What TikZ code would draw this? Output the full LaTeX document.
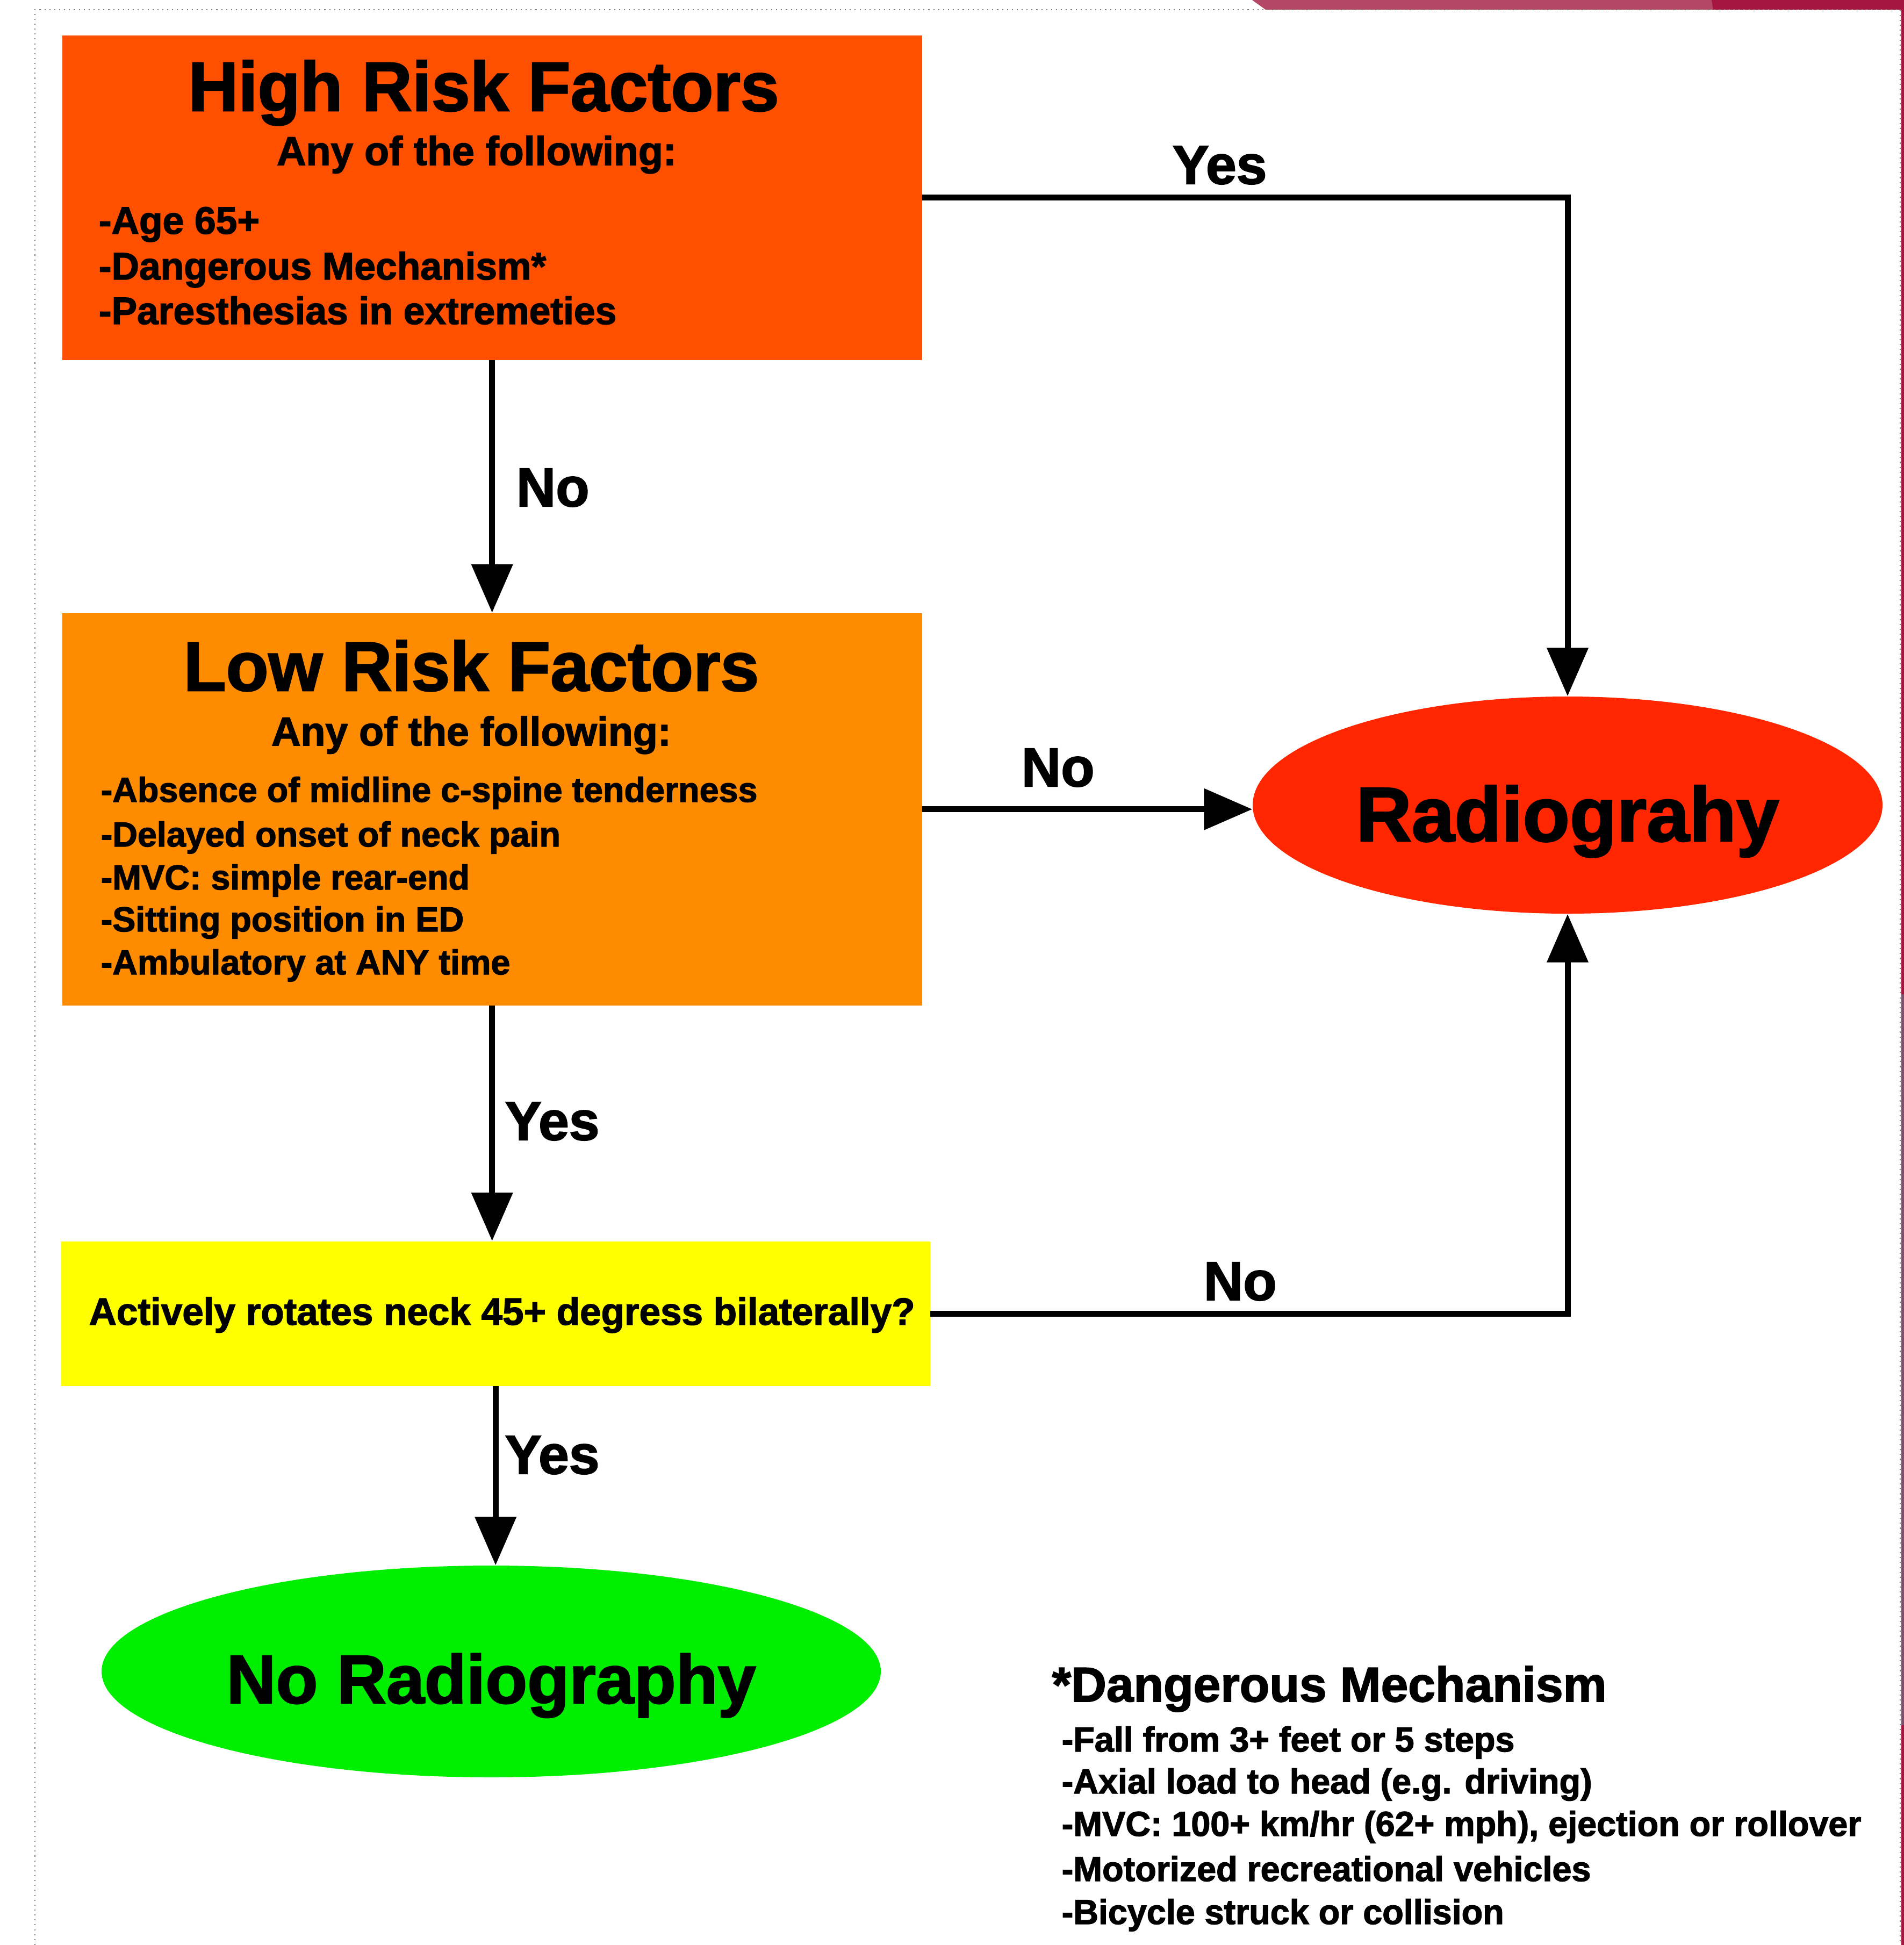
\documentclass[tikz,border=0pt]{standalone}
\usepackage{fontspec}
\setmainfont{Liberation Sans}[BoldFeatures={FakeBold=2}]
\usetikzlibrary{arrows.meta,shapes.geometric}
\newcommand{\bsize}[1]{\fontsize{#1}{#1}\selectfont\bfseries}

\begin{document}
\begin{tikzpicture}[>={Triangle[width=0.75cm,length=0.9cm]}]

\useasboundingbox (0,0) rectangle (35.43,-36.19);

% Colours
\definecolor{hirisk}{RGB}{255,80,0}
\definecolor{lorisk}{RGB}{255,140,0}
\definecolor{rotq}{RGB}{255,255,0}
\definecolor{radred}{RGB}{255,38,0}
\definecolor{nogreen}{RGB}{0,238,0}
\definecolor{slidea}{RGB}{180,72,100}
\definecolor{slideb}{RGB}{165,21,64}
\definecolor{slidec}{RGB}{122,82,112}

\tikzset{
	box/.style={rectangle, inner sep=0pt, anchor=north west},
	oval/.style={ellipse, inner sep=0pt},
	txt/.style={inner sep=0pt, anchor=base west},
	flow/.style={->, line width=0.11cm},
	yn/.style={txt, font=\bsize{29}}
}

% Slide frame
\fill[slidea] (23.3,0) -- (23.55,-0.18) -- (35.43,-0.18) -- (35.43,0) -- cycle;
\fill[slideb] (31.85,0) -- (31.88,-0.18) -- (35.43,-0.18) -- (35.43,0) -- cycle;
\fill[slideb] (35.38,0) rectangle (35.43,-36.19);
\fill[slidec] (35.38,-18.5) rectangle (35.43,-32.1);
\draw[gray, dotted, line width=0.6pt] (0.65,-36.19) -- (0.65,-0.18) -- (35.36,-0.18) -- (35.36,-36.19);

% High risk
\node[box, fill=hirisk, minimum width=16cm, minimum height=6.04cm] (hi) at (1.15,-0.65) {};
\node[txt, anchor=base, font=\bsize{36.8}] (hititle) at (9.00,-2.06) {High Risk Factors};
\node[txt, anchor=base, font=\bsize{21.4}] (hisub) at (8.87,-3.07) {Any of the following:};
\foreach \i/\y/\lab in {1/4.35/-Age 65+, 2/5.20/-Dangerous Mechanism*, 3/6.03/-Paresthesias in extremeties}{
	\node[txt, font=\bsize{20.3}] (hb\i) at (1.83,-\y) {\lab};
}

% Low risk
\node[box, fill=lorisk, minimum width=16cm, minimum height=7.3cm] (lo) at (1.15,-11.40) {};
\node[txt, anchor=base, font=\bsize{36.8}] (lotitle) at (8.77,-12.85) {Low Risk Factors};
\node[txt, anchor=base, font=\bsize{21.4}] (losub) at (8.77,-13.87) {Any of the following:};
\foreach \i/\y/\lab in {1/14.92/-Absence of midline c-spine tenderness, 2/15.75/-Delayed onset of neck pain,
	3/16.55/-MVC: simple rear-end, 4/17.33/-Sitting position in ED, 5/18.13/-Ambulatory at ANY time}{
	\node[txt, font=\bsize{18.4}] (lb\i) at (1.87,-\y) {\lab};
}

% Rotation question
\node[box, fill=rotq, minimum width=16.17cm, minimum height=2.69cm] (rot) at (1.13,-23.09) {};
\node[txt, font=\bsize{20.2}] (rottxt) at (1.65,-24.65) {Actively rotates neck 45+ degress bilaterally?};

% Outcomes
\node[oval, fill=radred, minimum width=11.72cm, minimum height=4.04cm] (rad) at (29.17,-14.98) {};
\node[txt, anchor=base, font=\bsize{40.7}] (radtxt) at ([yshift=-0.67cm]rad.center) {Radiograhy};
\node[oval, fill=nogreen, minimum width=14.5cm, minimum height=3.94cm] (norad) at (9.14,-31.10) {};
\node[txt, anchor=base, font=\bsize{36.3}] (noradtxt) at ([yshift=-0.59cm]norad.center) {No Radiography};

% Arrows
\draw[flow] (hi.east) -| (rad.north);
\draw[flow] (hi.south) -- (lo.north);
\draw[flow] (lo.east) -- (lo.east -| rad.west);
\draw[flow] (lo.south) -- (lo.south |- rot.north);
\draw[flow] (rot.east) -| (rad.south);
\draw[flow] (rot.south) -- (rot.south |- norad.north);

% Yes / No
\node[yn] (y1) at (21.81,-3.42) {Yes};
\node[yn] (n1) at (9.60,-9.42) {No};
\node[yn] (n2) at (19.00,-14.63) {No};
\node[yn] (y2) at (9.39,-21.21) {Yes};
\node[yn] (n3) at (22.39,-24.19) {No};
\node[yn] (y3) at (9.39,-27.42) {Yes};

% Footnote
\node[txt, font=\bsize{25.9}] (dmtitle) at (19.57,-31.66) {*Dangerous Mechanism};
\foreach \i/\y/\lab in {1/32.59/-Fall from 3+ feet or 5 steps, 2/33.37/-Axial load to head (e.g. driving),
	3/34.16/{-MVC: 100+ km/hr (62+ mph), ejection or rollover}, 4/35.00/-Motorized recreational vehicles,
	5/35.80/-Bicycle struck or collision}{
	\node[txt, font=\bsize{18.4}] (db\i) at (19.75,-\y) {\lab};
}

\end{tikzpicture}
\end{document}
